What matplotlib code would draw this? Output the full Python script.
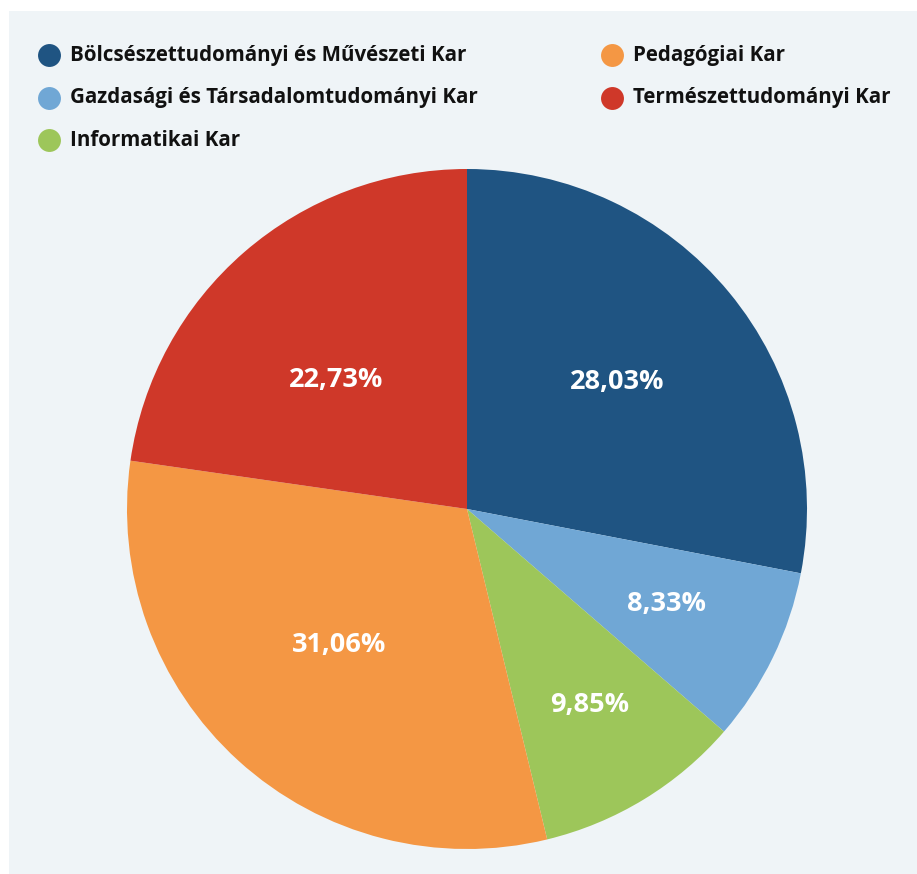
import numpy as np
import matplotlib
matplotlib.use('Agg')
import matplotlib.pyplot as plt
from matplotlib.patches import Rectangle

# data
faculties = ['Bölcsészettudományi és Művészeti Kar',
             'Gazdasági és Társadalomtudományi Kar',
             'Informatikai Kar',
             'Pedagógiai Kar',
             'Természettudományi Kar']
shares = [28.03, 8.33, 9.85, 31.06, 22.73]
colors = ['#1f5482', '#70a7d5', '#9dc65a', '#f49744', '#cf3829']
# label placement: radius fraction and small angle nudge (deg)
label_r = [0.58, 0.65, 0.68, 0.55, 0.54]
label_nudge = [0.7, 0.4, 0.6, -1.0, 4.5]

W, H = 917, 874
fig = plt.figure(figsize=(W / 100, H / 100), dpi=100)
fig.patch.set_facecolor('white')
fig.add_artist(Rectangle((9 / W, 0), 1, (H - 11) / H, transform=fig.transFigure,
                         facecolor='#eff4f7', edgecolor='none', zorder=0))

FONT = 'Open Sans'

# pie
cx, cy, R = 467, H - 509, 340
ax = fig.add_axes([(cx - R) / W, (cy - R) / H, 2 * R / W, 2 * R / H])
wedges, _ = ax.pie(shares, colors=colors, startangle=90, counterclock=False,
                   radius=1, wedgeprops=dict(linewidth=0))
ax.set_xlim(-1, 1)
ax.set_ylim(-1, 1)
ax.set_aspect('equal')
ax.axis('off')

for w, v, lr, dn in zip(wedges, shares, label_r, label_nudge):
    ang = np.deg2rad((w.theta1 + w.theta2) / 2 + dn)
    ax.text(lr * np.cos(ang), lr * np.sin(ang), f'{v:.2f}%'.replace('.', ','),
            ha='center', va='center', color='white', fontsize=19.5,
            fontweight='bold', family=FONT)

# legend, two columns filled top to bottom
col_x = [49, 612]
row_y = [55, 98, 140]
for i, (name, c) in enumerate(zip(faculties, colors)):
    col, row = (0, i) if i < 3 else (1, i - 3)
    x = col_x[col] / W
    y = 1 - row_y[row] / H
    fig.add_artist(plt.Line2D([x], [y], marker='o', markersize=16.5,
                              markerfacecolor=c, markeredgecolor='none',
                              transform=fig.transFigure))
    fig.text(x + 21 / W, y, name, ha='left', va='center', fontsize=14.8,
             fontweight='bold', family=FONT, color='#111111')

fig.savefig('out.png', dpi=100)
